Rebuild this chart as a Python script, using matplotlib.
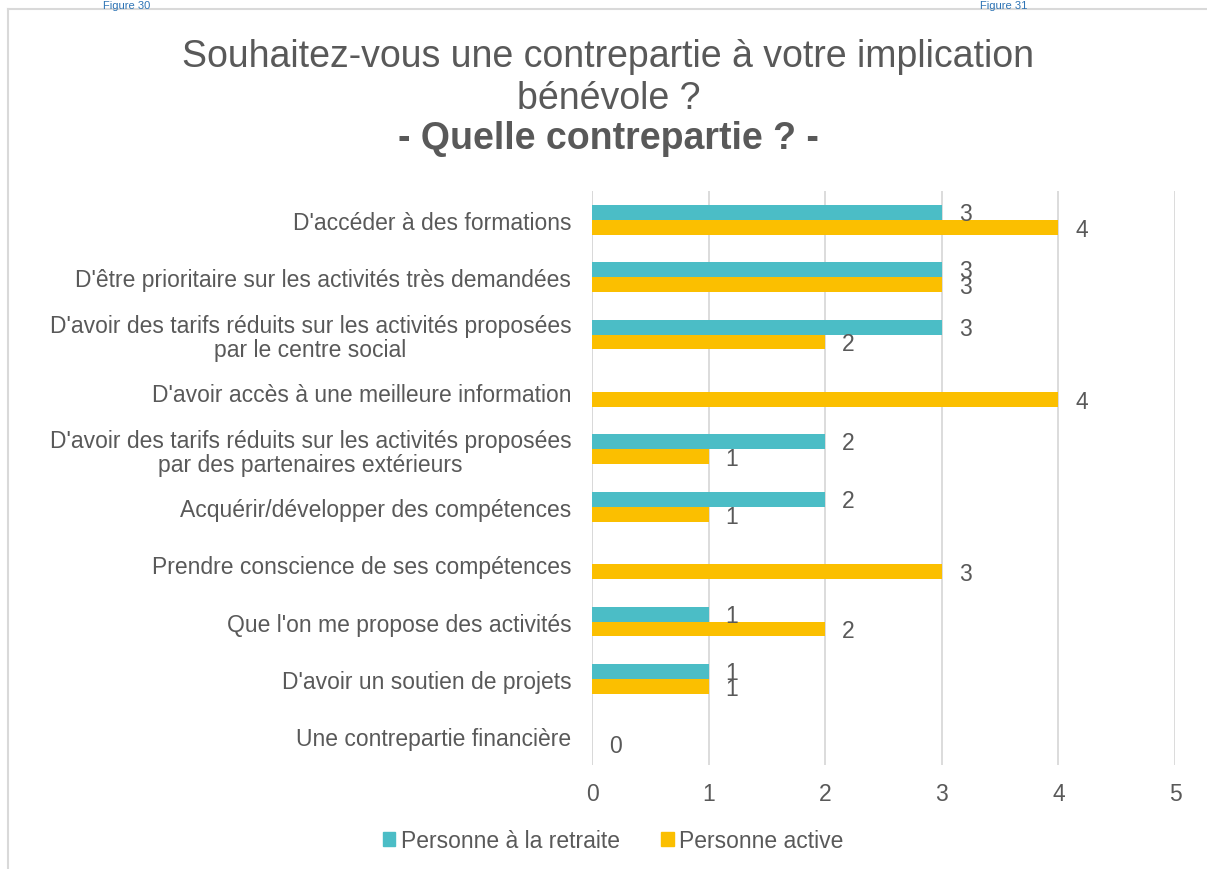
import numpy as np
import matplotlib.pyplot as plt
from matplotlib.lines import Line2D
import matplotlib.patches as mpatches

plt.rcParams['font.family'] = ['Liberation Sans', 'DejaVu Sans']

categories = [
    "D'accéder à des formations",
    "D'être prioritaire sur les activités très demandées",
    "D'avoir des tarifs réduits sur les activités proposées\npar le centre social",
    "D'avoir accès à une meilleure information",
    "D'avoir des tarifs réduits sur les activités proposées\npar des partenaires extérieurs",
    "Acquérir/développer des compétences",
    "Prendre conscience de ses compétences",
    "Que l'on me propose des activités",
    "D'avoir un soutien de projets",
    "Une contrepartie financière",
]
retraite = [3, 3, 3, None, 2, 2, None, 1, 1, None]
active = [4, 3, 2, 4, 1, 1, 3, 2, 1, 0]
series_names = ["Personne à la retraite", "Personne active"]
x_ticks = [0, 1, 2, 3, 4, 5]

TEAL = '#4BBDC6'
GOLD = '#FBBF00'
TXT = '#595959'
GRID = '#D9D9D9'
FS = 16.5

fig = plt.figure(figsize=(12.07, 8.70), dpi=100)
ax = fig.add_axes([0.4905, 0.1195, 0.483, 0.6598])

y = np.arange(len(categories))
h = 0.26
ret_vals = np.array([np.nan if v is None else v for v in retraite], dtype=float)
act_vals = np.array(active, dtype=float)

ax.barh(y - h / 2, np.nan_to_num(ret_vals), height=h, color=TEAL, zorder=3)
ax.barh(y + h / 2, act_vals, height=h, color=GOLD, zorder=3)

# data labels
for i in range(len(categories)):
    if not np.isnan(ret_vals[i]):
        ax.annotate(f"{int(ret_vals[i])}", (ret_vals[i], y[i] - h / 2),
                    xytext=(17, -1), textcoords='offset pixels',
                    ha='left', va='center', fontsize=FS, color=TXT)
    ax.annotate(f"{int(act_vals[i])}", (act_vals[i], y[i] + h / 2),
                xytext=(17, -2), textcoords='offset pixels',
                ha='left', va='center', fontsize=FS, color=TXT)

ax.set_xlim(0, 5)
ax.set_ylim(len(categories) - 0.5, -0.5)
ax.set_xticks(x_ticks)
ax.set_yticks(y)
ax.set_yticklabels(categories, multialignment='center', linespacing=1.05)
ax.tick_params(axis='both', length=0, labelsize=FS, colors=TXT)
ax.tick_params(axis='y', pad=15)
ax.tick_params(axis='x', pad=12)
ax.grid(axis='x', color=GRID, linewidth=1.3, zorder=0)
for s in ax.spines.values():
    s.set_visible(False)
ax.axvline(0, color=GRID, linewidth=1.3, zorder=1)

# titles
fig.text(0.504, 0.934, "Souhaitez-vous une contrepartie à votre implication",
         ha='center', va='center', fontsize=27, color=TXT)
fig.text(0.504, 0.886, "bénévole ?", ha='center', va='center', fontsize=27, color=TXT)
fig.text(0.504, 0.840, "- Quelle contrepartie ? -", ha='center', va='center',
         fontsize=27, fontweight='bold', color=TXT)

# legend
handles = [mpatches.Patch(color=TEAL), mpatches.Patch(color=GOLD)]
leg = fig.legend(handles, series_names, loc='center', bbox_to_anchor=(0.508, 0.033),
                 ncol=2, frameon=False, fontsize=FS, handlelength=0.55, handleheight=0.55,
                 handletextpad=0.25, columnspacing=1.8, labelcolor=TXT)

# outer frame and captions at the top
fig.add_artist(Line2D([0.0066, 1.0], [0.9885, 0.9885], color=GRID, linewidth=1.5,
                      transform=fig.transFigure))
fig.add_artist(Line2D([0.0066, 0.0066], [0.0, 0.9885], color=GRID, linewidth=1.5,
                      transform=fig.transFigure))
fig.text(0.085, 0.999, "Figure 30", ha='left', va='top', fontsize=8, color='#2E74B5')
fig.text(0.812, 0.999, "Figure 31", ha='left', va='top', fontsize=8, color='#2E74B5')

fig.savefig('out.png', dpi=100, facecolor='white')
